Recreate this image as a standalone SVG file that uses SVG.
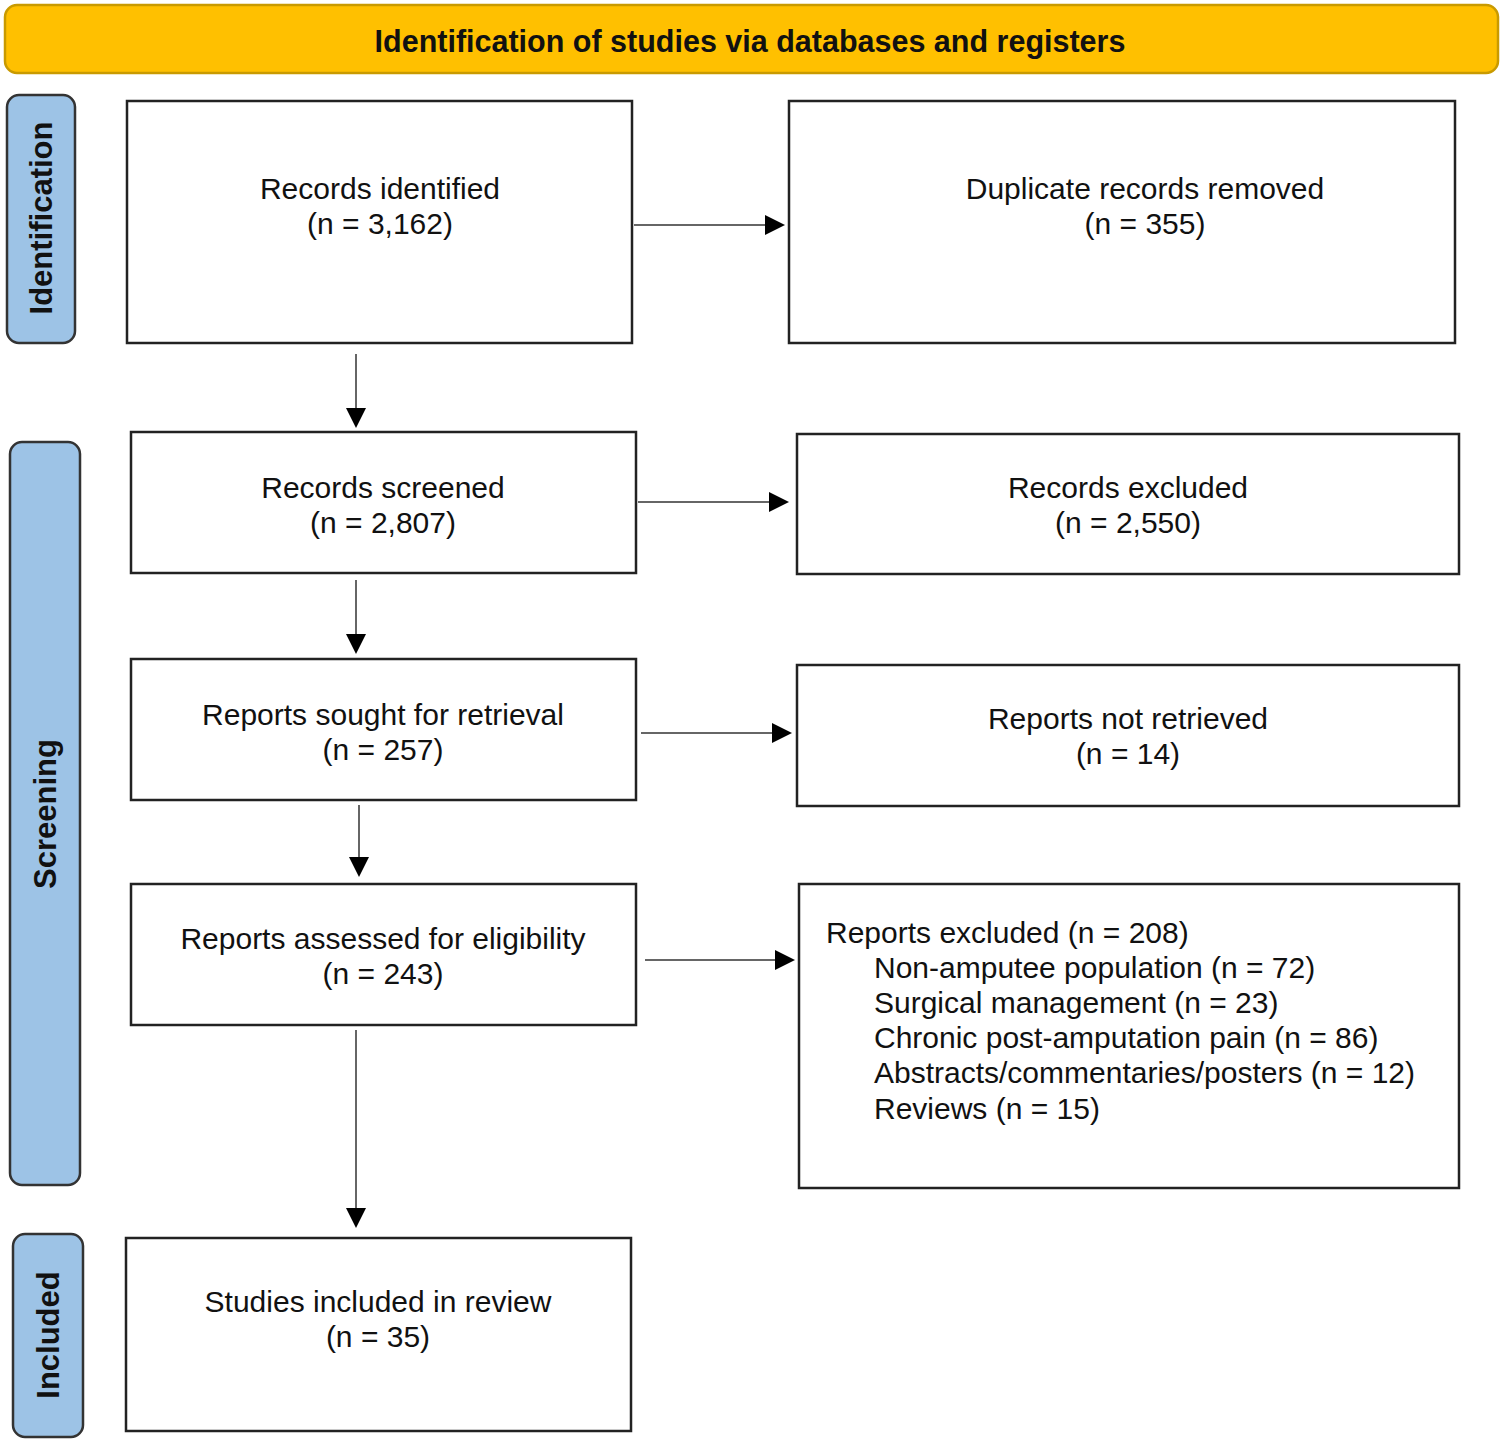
<svg xmlns="http://www.w3.org/2000/svg" width="1502" height="1443" viewBox="0 0 1502 1443">
<style>
.box{fill:#fff;stroke:#222;stroke-width:2.5}
.side{fill:#9DC3E6;stroke:#333;stroke-width:2.5}
.t{font-family:"Liberation Sans",Arial,sans-serif;font-size:30px;fill:#111}
.c{text-anchor:middle}
.st{font-family:"Liberation Sans",Arial,sans-serif;font-size:31px;font-weight:bold;fill:#111;text-anchor:middle}
.conn{stroke:#666;stroke-width:2;fill:none}
.head{fill:#000}
</style>
<rect width="1502" height="1443" fill="#fff"/>
<g id="header">
<rect x="5" y="5" width="1493" height="68" rx="12" fill="#FFC000" stroke="#C99A00" stroke-width="2.5"/>
<text x="750" y="52" class="st" style="font-size:30.5px">Identification of studies via databases and registers</text>
</g>
<g id="phase-identification">
<rect x="7" y="95" width="68" height="248" rx="12" class="side"/>
<text class="st" transform="translate(52,218) rotate(-90)">Identification</text>
</g>
<g id="phase-screening">
<rect x="10" y="442" width="70" height="743" rx="12" class="side"/>
<text class="st" transform="translate(56,814) rotate(-90)">Screening</text>
</g>
<g id="phase-included">
<rect x="13" y="1234" width="70" height="203" rx="12" class="side"/>
<text class="st" transform="translate(59,1335) rotate(-90)">Included</text>
</g>
<g id="connectors">
<path class="conn" d="M634,225 H770"/>
<path class="head" d="M765,215 L785,225 L765,235 Z"/>
<path class="conn" d="M356,354 V413"/>
<path class="head" d="M346,408 L356,428 L366,408 Z"/>
<path class="conn" d="M638,502 H774"/>
<path class="head" d="M769,492 L789,502 L769,512 Z"/>
<path class="conn" d="M356,580 V639"/>
<path class="head" d="M346,634 L356,654 L366,634 Z"/>
<path class="conn" d="M641,733 H777"/>
<path class="head" d="M772,723 L792,733 L772,743 Z"/>
<path class="conn" d="M359,805 V862"/>
<path class="head" d="M349,857 L359,877 L369,857 Z"/>
<path class="conn" d="M645,960 H780"/>
<path class="head" d="M775,950 L795,960 L775,970 Z"/>
<path class="conn" d="M356,1030 V1213"/>
<path class="head" d="M346,1208 L356,1228 L366,1208 Z"/>
</g>
<g id="records-identified">
<rect x="127" y="101" width="505" height="242" class="box"/>
<text class="t c" x="380" y="199">Records identified</text>
<text class="t c" x="380" y="234">(n = 3,162)</text>
</g>
<g id="duplicates-removed">
<rect x="789" y="101" width="666" height="242" class="box"/>
<text class="t c" x="1145" y="199">Duplicate records removed</text>
<text class="t c" x="1145" y="234">(n = 355)</text>
</g>
<g id="records-screened">
<rect x="131" y="432" width="505" height="141" class="box"/>
<text class="t c" x="383" y="498">Records screened</text>
<text class="t c" x="383" y="533">(n = 2,807)</text>
</g>
<g id="records-excluded">
<rect x="797" y="434" width="662" height="140" class="box"/>
<text class="t c" x="1128" y="498">Records excluded</text>
<text class="t c" x="1128" y="533">(n = 2,550)</text>
</g>
<g id="reports-sought">
<rect x="131" y="659" width="505" height="141" class="box"/>
<text class="t c" x="383" y="725">Reports sought for retrieval</text>
<text class="t c" x="383" y="760">(n = 257)</text>
</g>
<g id="reports-not-retrieved">
<rect x="797" y="665" width="662" height="141" class="box"/>
<text class="t c" x="1128" y="729">Reports not retrieved</text>
<text class="t c" x="1128" y="764">(n = 14)</text>
</g>
<g id="reports-assessed">
<rect x="131" y="884" width="505" height="141" class="box"/>
<text class="t c" x="383" y="949">Reports assessed for eligibility</text>
<text class="t c" x="383" y="984">(n = 243)</text>
</g>
<g id="reports-excluded">
<rect x="799" y="884" width="660" height="304" class="box"/>
<text class="t" x="826" y="943">Reports excluded (n = 208)</text>
<text class="t" x="874" y="978">Non-amputee population (n = 72)</text>
<text class="t" x="874" y="1013">Surgical management (n = 23)</text>
<text class="t" x="874" y="1048">Chronic post-amputation pain (n = 86)</text>
<text class="t" x="874" y="1083">Abstracts/commentaries/posters (n = 12)</text>
<text class="t" x="874" y="1119">Reviews (n = 15)</text>
</g>
<g id="studies-included">
<rect x="126" y="1238" width="505" height="193" class="box"/>
<text class="t c" x="378" y="1312">Studies included in review</text>
<text class="t c" x="378" y="1347">(n = 35)</text>
</g>
</svg>
